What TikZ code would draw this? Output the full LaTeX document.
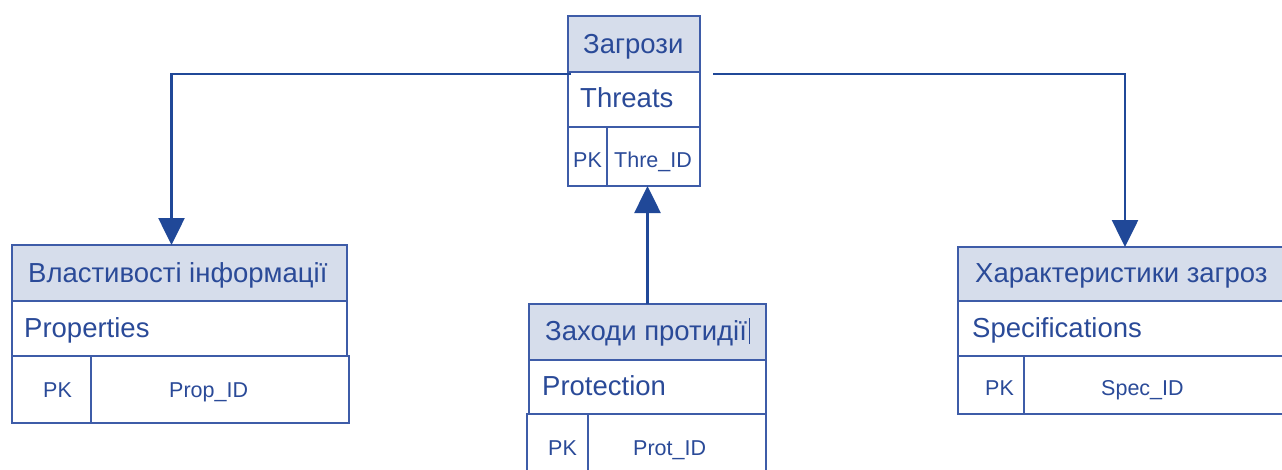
\documentclass[tikz,border=0pt]{standalone}
\usepackage{fontspec}
\setmainfont{Liberation Sans}
\usetikzlibrary{arrows.meta}
\definecolor{boxline}{RGB}{62,92,168}
\definecolor{ink}{RGB}{42,74,152}
\definecolor{arrowc}{RGB}{32,72,152}
\definecolor{hdrfill}{RGB}{214,221,235}
\tikzset{
  cell/.style={draw=boxline, line width=1.4pt, anchor=north west, inner sep=0pt, outer sep=0pt},
  hdr/.style={cell, fill=hdrfill},
  big/.style={anchor=base west, inner sep=0pt, text=ink, font=\fontsize{27.5}{27.5}\selectfont},
  small/.style={anchor=base west, inner sep=0pt, text=ink, font=\fontsize{21.5}{21.5}\selectfont},
  link/.style={draw=arrowc, line width=2.6pt, -{Triangle[width=26pt,length=27pt]}},
}
\begin{document}
\begin{tikzpicture}[x=1pt,y=-1pt]
\useasboundingbox (0,0) rectangle (1282,469);
\clip (0,0) rectangle (1282,469);

% Threats (top centre)
\node[hdr, minimum width=132pt, minimum height=56pt] (tH) at (568,16) {};
\node[cell, minimum width=132pt, minimum height=55pt] (tN) at (568,72) {};
\node[cell, minimum width=39pt, minimum height=59pt] (tK) at (568,127) {};
\node[cell, minimum width=93pt, minimum height=59pt] (tI) at (607,127) {};
\node[big] (tHt) at (583,53) {Загрози};
\node[big] (tNt) at (580,107) {Threats};
\node[small] (tKt) at (573,167) {PK};
\node[small] (tIt) at (614,167) {Thre\_ID};

% Properties (left)
\node[hdr, minimum width=335pt, minimum height=56pt] (pH) at (12,245) {};
\node[cell, minimum width=335pt, minimum height=55pt] (pN) at (12,301) {};
\node[cell, minimum width=79pt, minimum height=67pt] (pK) at (12,356) {};
\node[cell, minimum width=258pt, minimum height=67pt] (pI) at (91,356) {};
\node[big] (pHt) at (28,282) {Властивості інформації};
\node[big] (pNt) at (24,337) {Properties};
\node[small] (pKt) at (43,397) {PK};
\node[small] (pIt) at (169,397) {Prop\_ID};

% Protection (bottom centre)
\node[hdr, minimum width=237pt, minimum height=56pt] (mH) at (529,304) {};
\node[cell, minimum width=237pt, minimum height=54pt] (mN) at (529,360) {};
\node[cell, minimum width=61pt, minimum height=80pt] (mK) at (527,414) {};
\node[cell, minimum width=178pt, minimum height=80pt] (mI) at (588,414) {};
\node[big] (mHt) at (545,340) {Заходи протидії};
\draw[ink, line width=0.6pt] (mHt.base east) ++(2,4) -- ++(0,-26);
\node[big] (mNt) at (542,395) {Protection};
\node[small] (mKt) at (548,455) {PK};
\node[small] (mIt) at (633,455) {Prot\_ID};

% Specifications (right)
\node[hdr, minimum width=340pt, minimum height=54pt] (sH) at (958,247) {};
\node[cell, minimum width=340pt, minimum height=55pt] (sN) at (958,301) {};
\node[cell, minimum width=66pt, minimum height=58pt] (sK) at (958,356) {};
\node[cell, minimum width=274pt, minimum height=58pt] (sI) at (1024,356) {};
\node[big] (sHt) at (975,282) {Характеристики загроз};
\node[big] (sNt) at (972,337) {Specifications};
\node[small] (sKt) at (985,395) {PK};
\node[small] (sIt) at (1101,395) {Spec\_ID};

% Relationship lines
\coordinate (lStart) at ([xshift=3pt,yshift=-2pt]tH.south west);
\coordinate (rStart) at ([xshift=13pt,yshift=-2pt]tH.south east);
\draw[link] (lStart) -| ([xshift=-8pt]pH.north);
\draw[link] (rStart) -| ([xshift=-3pt]sH.north);
\draw[link] (mH.north) -- (mH.north |- tI.south);
\end{tikzpicture}
\end{document}
